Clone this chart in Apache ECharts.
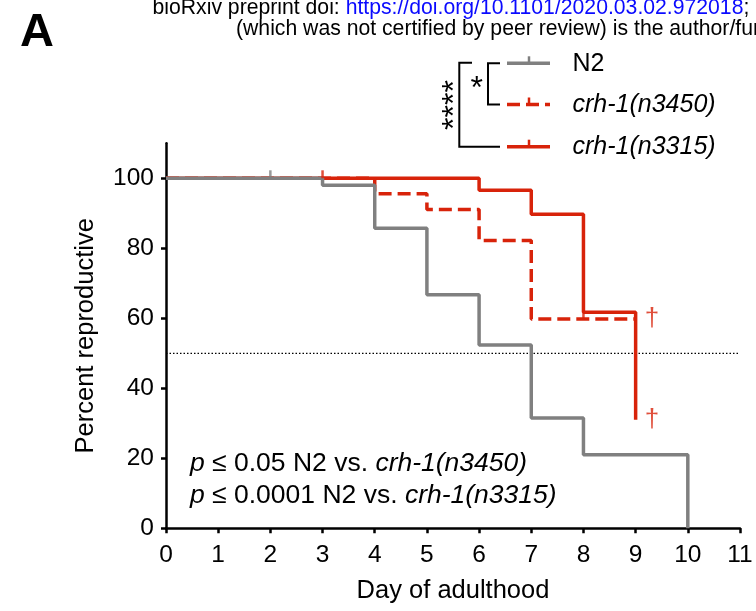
<!DOCTYPE html>
<html><head><meta charset="utf-8">
<script src="https://cdn.jsdelivr.net/npm/echarts@6/dist/echarts.min.js"></script>
<style>html,body{margin:0;padding:0;background:#fff}#c{width:756px;height:611px}</style>
</head><body><div id="c"></div>
<script>
// ---- data ----
const dayTicks = [0,1,2,3,4,5,6,7,8,9,10,11];
const pctTicks = [0,20,40,60,80,100];
const n2Days  = [0,3,4,5,6,7,8,10];
const n2Pct   = [100,98.0,85.7,66.7,52.4,31.5,21.0,0];
const n3450Days = [0,4,5,6,7,9];
const n3450Pct  = [100,95.6,91.1,82.2,59.8,59.8];
const n3315Days = [0,6,7,8,9];
const n3315Pct  = [100,96.6,89.7,61.7,31.0];
const n2CensorDays = [2];
const n2CensorPct  = [100];
const redCensorDays = [3,8];
const redCensorPct  = [100,59.8];
const daggerDays = [9,9];
const daggerPct  = [59.8,31.0];
const medianPct = 50;
const seriesNames = ['N2','crh-1(n3450)','crh-1(n3315)'];
const pLines = [
  ['p', ' \u2264 0.05 N2 vs. ', 'crh-1(n3450)'],
  ['p', ' \u2264 0.0001 N2 vs. ', 'crh-1(n3315)']
];

// ---- styles ----
const GRAY = '#808080';
const RED = '#d8230a';
const FONT = 'Arial, "Liberation Sans", Helvetica, sans-serif';
const zip = (a,b) => a.map((v,i)=>[v,b[i]]);

const chart = echarts.init(document.getElementById('c'), null, {renderer:'canvas'});

const legendY = [63.3, 104.5, 146.7];
const legendX0 = 507, legendX1 = 550, legendTick = 529;
const graphics = [];
// header
graphics.push({type:'text', x:20, y:33, style:{text:'A', font:'bold 47px '+FONT, fill:'#000', verticalAlign:'middle'}});
graphics.push({type:'text', x:152.5, y:8.5, style:{text:'bioRxiv preprint doi: {l|https://doi.org/10.1101/2020.03.02.972018};', font:'21.2px '+FONT, fill:'#000', verticalAlign:'middle', rich:{l:{fill:'#0a0aff', font:'21.2px '+FONT}}}});
graphics.push({type:'text', x:236, y:29, style:{text:'(which was not certified by peer review) is the author/funder', font:'21.2px '+FONT, fill:'#000', verticalAlign:'middle'}});
// legend
const legStyles = [
  {stroke:GRAY, lineWidth:3.5},
  {stroke:RED, lineWidth:3.5, lineDash:[13,6]},
  {stroke:RED, lineWidth:3.5}
];
const legColors = [GRAY, RED, RED];
legendY.forEach((y,i)=>{
  graphics.push({type:'line', shape:{x1:legendX0,y1:y,x2:legendX1,y2:y}, style:legStyles[i]});
  graphics.push({type:'line', shape:{x1:legendTick,y1:y,x2:legendTick,y2:y-7}, style:{stroke:legColors[i], lineWidth:2.5}});
  graphics.push({type:'text', x:572.5, y:y+0.5, style:{text:seriesNames[i], font:(i?'italic ':'')+'25px '+FONT, fill:'#000', verticalAlign:'middle'}});
});
// brackets
const bk = {stroke:'#000', lineWidth:2};
graphics.push({type:'polyline', shape:{points:[[500,legendY[0]],[488,legendY[0]],[488,legendY[1]],[500,legendY[1]]]}, style:Object.assign({fill:null},bk)});
graphics.push({type:'polyline', shape:{points:[[472,legendY[0]-0.5],[459.3,legendY[0]-0.5],[459.3,legendY[2]],[500,legendY[2]]]}, style:Object.assign({fill:null},bk)});
graphics.push({type:'text', x:476.7, y:89.5, style:{text:'*', font:'32px '+FONT, fill:'#000', align:'center', verticalAlign:'middle'}});
graphics.push({type:'text', x:455, y:105, rotation:Math.PI/2, style:{text:'****', font:'32px '+FONT, fill:'#000', align:'center', verticalAlign:'middle'}});
// p-value text
const pY = [463.5, 496];
pLines.forEach((l,i)=>{
  graphics.push({type:'text', x:190, y:pY[i], style:{text:'{i|'+l[0]+'}'+l[1]+'{i|'+l[2]+'}', font:'26.5px '+FONT, fill:'#000', verticalAlign:'middle', rich:{i:{font:'italic 26.5px '+FONT, fill:'#000'}}}});
});

const axisCommon = {
  axisLine:{show:true, lineStyle:{color:'#000', width:2.5}},
  axisTick:{show:true, inside:false, length:5, lineStyle:{color:'#000', width:2.5}},
  splitLine:{show:false},
  nameTextStyle:{fontSize:25.5, color:'#000', fontFamily:FONT},
};

chart.setOption({
  animation:false,
  backgroundColor:'#fff',
  grid:{left:166, right:16, top:143.3, bottom:82.7, containLabel:false, outerBoundsMode:'none'},
  xAxis: Object.assign({}, axisCommon, {
    type:'value', min:0, max:11, interval:1,
    axisLabel:{fontSize:24.5, color:'#000', fontFamily:FONT, margin:14, customValues:dayTicks},
    axisTick:Object.assign({}, axisCommon.axisTick, {customValues:dayTicks}),
    name:'Day of adulthood', nameLocation:'middle', nameGap:50
  }),
  yAxis: Object.assign({}, axisCommon, {
    type:'value', min:0, max:110, interval:20,
    axisLabel:{fontSize:24.5, color:'#000', fontFamily:FONT, margin:12, customValues:pctTicks},
    axisTick:Object.assign({}, axisCommon.axisTick, {customValues:pctTicks}),
    name:'Percent reproductive', nameLocation:'middle', nameGap:67
  }),
  graphic: graphics,
  series:[
    {type:'line', name:'median', data:[[0,medianPct],[11,medianPct]], symbol:'none', silent:true,
     lineStyle:{color:'#000', width:1.3, type:[1.5,2]}, z:1},
    {type:'line', name:seriesNames[2], data:zip(n3315Days,n3315Pct), step:'end', symbol:'none',
     lineStyle:{color:RED, width:3.5}, z:2},
    {type:'line', name:seriesNames[1], data:zip(n3450Days,n3450Pct), step:'end', symbol:'none',
     lineStyle:{color:RED, width:3.5, type:[13,6]}, z:3},
    {type:'line', name:seriesNames[0], data:zip(n2Days,n2Pct), step:'end', symbol:'none',
     lineStyle:{color:GRAY, width:3.5}, z:4},
    {type:'scatter', name:'N2 censored', data:zip(n2CensorDays,n2CensorPct), symbol:'rect', symbolSize:[2.5,8], symbolOffset:[0,-4],
     itemStyle:{color:GRAY}, z:5},
    {type:'scatter', name:'crh-1 censored', data:zip(redCensorDays,redCensorPct), symbol:'rect', symbolSize:[2.5,8], symbolOffset:[0,-4],
     itemStyle:{color:RED}, z:5},
    {type:'scatter', name:'dagger', data:zip(daggerDays,daggerPct), symbol:'circle', symbolSize:0,
     label:{show:true, position:'right', distance:9, formatter:'\u2020', fontSize:26, color:RED, fontFamily:FONT}, z:6}
  ]
});
</script>
</body></html>
